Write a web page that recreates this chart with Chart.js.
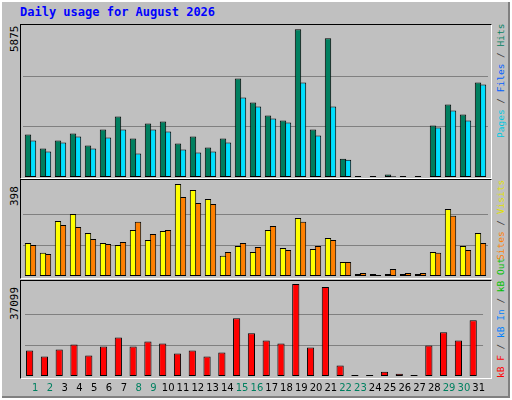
<!DOCTYPE html>
<html><head><meta charset="utf-8">
<script src="https://cdn.jsdelivr.net/npm/chart.js@4"></script>
<style>
body{margin:0;width:512px;height:400px;overflow:hidden;background:#fff;font-family:"DejaVu Sans Mono",monospace}
#outer{position:absolute;left:2px;top:2px;width:506px;height:394px;background:#c0c0c0;border-right:2px solid #808080;border-bottom:2px solid #808080}
.panel{position:absolute;left:20px;width:470px;border-top:1px solid #000;border-left:1px solid #000;border-right:1px solid #fff;border-bottom:1px solid #fff}
canvas{position:absolute}
.t{position:absolute;white-space:nowrap;font-size:9.5px;line-height:11px}
.rot{transform-origin:0 0;transform:rotate(-90deg)}
</style></head><body>
<div id="outer"></div>
<div class="t" style="left:20px;top:5px;color:#0000ff;font-weight:bold;font-size:12px;line-height:14px">Daily usage for August 2026</div>
<div class="panel" style="top:24px;height:153px"></div>
<div class="panel" style="top:179px;height:98px"></div>
<div class="panel" style="top:280px;height:97px"></div>
<div class="t rot" style="left:9px;top:52px;color:#000;font-size:11px;line-height:12px">5875</div>
<div class="t rot" style="left:9px;top:206px;color:#000;font-size:11px;line-height:12px">398</div>
<div class="t rot" style="left:9px;top:320px;color:#000;font-size:11px;line-height:12px">37099</div>
<div class="t rot" style="left:495px;top:138px"><span style="color:#00c8e0">Pages</span><span style="color:#404040"> / </span><span style="color:#0060ff">Files</span><span style="color:#404040"> / </span><span style="color:#008060">Hits</span></div>
<div class="t rot" style="left:495px;top:260px"><span style="color:#ff8000">Sites</span><span style="color:#404040"> / </span><span style="color:#e0e000">Visits</span></div>
<div class="t rot" style="left:495px;top:378px"><span style="color:#ff0000">kB F</span><span style="color:#404040"> / </span><span style="color:#0080ff">kB In</span><span style="color:#404040"> / </span><span style="color:#00c000">kB Out</span></div>
<canvas id="c1" style="left:23px;top:25px;width:465px;height:152px" width="465" height="152"></canvas>
<canvas id="c2" style="left:23px;top:180px;width:465px;height:96px" width="465" height="96"></canvas>
<canvas id="c3" style="left:23px;top:280px;width:465px;height:120px" width="465" height="120"></canvas>
<script>
const days=["1","2","3","4","5","6","7","8","9","10","11","12","13","14","15","16","17","18","19","20","21","22","23","24","25","26","27","28","29","30","31"];
const weekend=[1,2,8,9,15,16,22,23,29,30];
const hits=[1647,1102,1414,1686,1219,1842,2347,1491,2075,2153,1297,1569,1141,1491,3826,2892,2386,2192,5732,1842,5382,713,40,40,100,40,40,1997,2814,2425,3670];
const files=[1414,986,1336,1569,1102,1530,1842,908,1842,1764,1063,947,986,1336,3087,2736,2270,2114,3670,1608,2736,674,0,0,30,0,0,1919,2581,2192,3592];
const pages=[260,207,143,181,143,143,260,260,181,100,260,143,260,181,181,100,207,100,260,143,298,60,0,0,60,0,0,143,260,143,337];
const visits=[143,100,238,268,186,143,134,199,156,195,398,372,333,87,130,104,199,121,251,117,164,61,9,9,9,9,9,104,290,130,186];
const sites=[134,95,221,212,160,138,147,234,182,199,342,316,311,104,143,125,216,112,234,130,156,61,13,4,30,13,13,100,260,112,143];
const kbF=[10290,7853,10696,12727,8259,11915,15571,11915,13946,13133,9072,10290,7853,9478,23288,17195,14352,13133,37099,11509,35880,4197,400,400,1760,950,400,12321,17602,14352,22476];
const kbIn=days.map(()=>0);
const maxes=[5875,398,37099];
function bar(label,data,color,extra){return Object.assign({label,data,backgroundColor:color,borderColor:'#000',borderWidth:1,borderSkipped:false,stack:label},extra||{});}
function make(id,datasets,max,top,bp,showX){
  new Chart(document.getElementById(id),{type:'bar',data:{labels:days,datasets},
  options:{responsive:false,animation:false,devicePixelRatio:1,layout:{padding:0},
   datasets:{bar:{categoryPercentage:0.667,barPercentage:bp}},
   plugins:{legend:{display:false},tooltip:{enabled:false}},
   scales:{
    x:{display:showX,grid:{display:false,drawTicks:false},border:{display:false},
       ticks:{padding:6,labelOffset:3,maxRotation:0,autoSkip:false,font:{family:'DejaVu Sans',size:10},
       color:c=>weekend.includes(c.index+1)?'#008060':'#000'}},
    y:{display:true,stacked:false,min:0,max:top,
       afterBuildTicks:s=>{s.ticks=[{value:max/3},{value:2*max/3}];},
       grid:{color:'#808080',lineWidth:1,drawTicks:false},border:{display:false},ticks:{display:false}}
   }}});
}
make('c1',[bar('Hits',hits,'#007f5f'),bar('Pages',pages,'#0040ff',{stack:'Hits',maxBarThickness:2}),bar('Files',files,'#00e0ff')],maxes[0],5901,1.28,false);
make('c2',[bar('Visits',visits,'#ffff00'),bar('Sites',sites,'#ff8000')],maxes[1],415,1.28,false);
make('c3',[bar('kB F',kbF,'#ff0000'),bar('kB In',kbIn,'rgba(0,0,0,0)',{borderWidth:0})],maxes[2],38724,1.46,true);
</script>
</body></html>
